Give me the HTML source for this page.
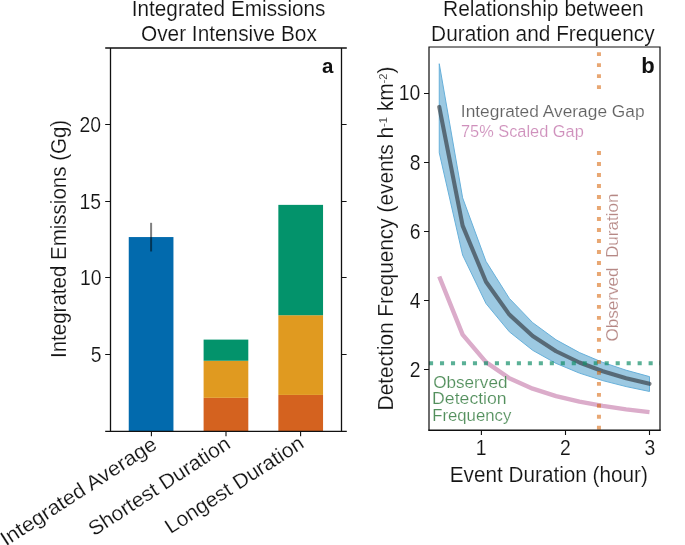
<!DOCTYPE html><html><head><meta charset="utf-8"><style>html,body{margin:0;padding:0;background:#fff;width:685px;height:545px;overflow:hidden}svg{display:block;will-change:transform}</style></head><body>
<svg width="685" height="545" viewBox="0 0 685 545" font-family='"Liberation Sans", sans-serif'>
<rect width="685" height="545" fill="#fff"/>
<rect x="128.75" y="237.06" width="44.70" height="194.04" fill="#026aad"/>
<rect x="203.60" y="397.84" width="44.70" height="33.26" fill="#d4621f"/>
<rect x="203.60" y="360.75" width="44.70" height="37.09" fill="#e09a20"/>
<rect x="203.60" y="339.60" width="44.70" height="21.15" fill="#03936b"/>
<rect x="278.35" y="394.93" width="44.70" height="36.17" fill="#d4621f"/>
<rect x="278.35" y="315.23" width="44.70" height="79.70" fill="#e09a20"/>
<rect x="278.35" y="204.87" width="44.70" height="110.35" fill="#03936b"/>
<line x1="151.1" y1="222.81" x2="151.1" y2="251.47" stroke="#000" stroke-opacity="0.5" stroke-width="2"/>
<path d="M110.5 48V431.3M341.5 48V431.3M105.2 48H346.8M105.2 431.3H346.8" fill="none" stroke="#111" stroke-width="1.3"/>
<path d="M105.2 354.50H110.5M341.5 354.50H346.6M105.2 277.50H110.5M341.5 277.50H346.6M105.2 201.50H110.5M341.5 201.50H346.6M105.2 124.50H110.5M341.5 124.50H346.6M151.40 431.3V436.2M226.00 431.3V436.2M300.60 431.3V436.2" fill="none" stroke="#111" stroke-width="1.1"/>
<polygon points="439.25,63.72 462.61,197.82 485.97,261.34 509.33,298.40 532.69,322.67 556.06,339.81 579.42,352.55 602.78,362.40 626.14,370.23 649.50,376.62 649.50,391.46 626.14,386.59 602.78,380.61 579.42,373.10 556.06,363.38 532.69,350.31 509.33,331.79 485.97,303.52 462.61,255.07 439.25,152.77" fill="#9cc9e2" stroke="#67b0da" stroke-width="1"/>
<polyline points="439.25,106.92 462.61,225.59 485.97,281.80 509.33,314.60 532.69,336.08 556.06,351.24 579.42,362.52 602.78,371.23 626.14,378.17 649.50,383.82" fill="none" stroke="#353c42" stroke-opacity="0.67" stroke-width="4.1" stroke-linejoin="round" stroke-linecap="round"/>
<polyline points="439.25,276.52 462.61,334.62 485.97,362.14 509.33,378.20 532.69,388.71 556.06,396.14 579.42,401.66 602.78,405.92 626.14,409.32 649.50,412.09" fill="none" stroke="#dbacca" stroke-width="4.4" stroke-linejoin="round"/>
<line x1="429" y1="363.3" x2="660" y2="363.3" stroke="#148e69" stroke-opacity="0.7" stroke-width="4.1" stroke-dasharray="4.1 6.88"/>
<line x1="598.95" y1="52.2" x2="598.95" y2="90" stroke="#D55E00" stroke-opacity="0.55" stroke-width="4" stroke-dasharray="3.9 7.09"/>
<line x1="598.95" y1="151.1" x2="598.95" y2="430" stroke="#D55E00" stroke-opacity="0.55" stroke-width="4" stroke-dasharray="3.9 7.09"/>
<path d="M429 46.4V430.8M660 46.4V430.8M428.4 47H660.6" fill="none" stroke="#111" stroke-width="1.22"/>
<path d="M428.4 430.2H660.6" fill="none" stroke="#111" stroke-width="1.4"/>
<path d="M424 369.50H429M424 300.50H429M424 231.50H429M424 162.50H429M424 93.50H429M481.4 430.2V434.9M565.5 430.2V434.9M649.5 430.2V434.9" fill="none" stroke="#111" stroke-width="1.1"/>
<text id="ya5" x="101.40" y="361.77" font-size="21.5" text-anchor="end" fill="#141414" stroke="#fff" stroke-width="0.15" textLength="10.77" lengthAdjust="spacingAndGlyphs">5</text>
<text id="ya10" x="101.60" y="285.13" font-size="21.5" text-anchor="end" fill="#141414" stroke="#fff" stroke-width="0.15" textLength="21.53" lengthAdjust="spacingAndGlyphs">10</text>
<text id="ya15" x="101.00" y="208.50" font-size="21.5" text-anchor="end" fill="#141414" stroke="#fff" stroke-width="0.15" textLength="21.53" lengthAdjust="spacingAndGlyphs">15</text>
<text id="ya20" x="101.10" y="131.86" font-size="21.5" text-anchor="end" fill="#141414" stroke="#fff" stroke-width="0.15" textLength="21.53" lengthAdjust="spacingAndGlyphs">20</text>
<text id="la" x="322.00" y="72.60" font-size="20.5" fill="#111" font-weight="bold">a</text>
<text id="ta1" x="228.59" y="16.00" font-size="21.5" text-anchor="middle" fill="#141414" stroke="#fff" stroke-width="0.15" textLength="193.68" lengthAdjust="spacingAndGlyphs">Integrated Emissions</text>
<text id="ta2" x="228.90" y="41.00" font-size="21.5" text-anchor="middle" fill="#141414" stroke="#fff" stroke-width="0.15" textLength="175.83" lengthAdjust="spacingAndGlyphs">Over Intensive Box</text>
<text id="yla" transform="translate(66.30 238.95) rotate(-90)" font-size="21.5" text-anchor="middle" fill="#141414" stroke="#fff" stroke-width="0.15" textLength="238.24" lengthAdjust="spacingAndGlyphs">Integrated Emissions (Gg)</text>
<text id="xa1" transform="translate(158.30 447.70) rotate(-33)" font-size="20.5" text-anchor="end" fill="#141414" stroke="#fff" stroke-width="0.15" textLength="181.52" lengthAdjust="spacingAndGlyphs">Integrated Average</text>
<text id="xa2" transform="translate(231.75 447.00) rotate(-33)" font-size="20.5" text-anchor="end" fill="#141414" stroke="#fff" stroke-width="0.15" textLength="164.32" lengthAdjust="spacingAndGlyphs">Shortest Duration</text>
<text id="xa3" transform="translate(305.40 446.70) rotate(-33)" font-size="20.5" text-anchor="end" fill="#141414" stroke="#fff" stroke-width="0.15" textLength="160.82" lengthAdjust="spacingAndGlyphs">Longest Duration</text>
<text id="yb2" x="420.40" y="377.28" font-size="21.5" text-anchor="end" fill="#141414" stroke="#fff" stroke-width="0.15" textLength="10.77" lengthAdjust="spacingAndGlyphs">2</text>
<text id="yb4" x="420.40" y="308.05" font-size="21.5" text-anchor="end" fill="#141414" stroke="#fff" stroke-width="0.15" textLength="10.77" lengthAdjust="spacingAndGlyphs">4</text>
<text id="yb6" x="420.40" y="238.83" font-size="21.5" text-anchor="end" fill="#141414" stroke="#fff" stroke-width="0.15" textLength="10.77" lengthAdjust="spacingAndGlyphs">6</text>
<text id="yb8" x="420.40" y="169.60" font-size="21.5" text-anchor="end" fill="#141414" stroke="#fff" stroke-width="0.15" textLength="10.77" lengthAdjust="spacingAndGlyphs">8</text>
<text id="yb10" x="420.40" y="100.37" font-size="21.5" text-anchor="end" fill="#141414" stroke="#fff" stroke-width="0.15" textLength="21.53" lengthAdjust="spacingAndGlyphs">10</text>
<text id="xb1" x="481.10" y="455.00" font-size="21.5" text-anchor="middle" fill="#141414" stroke="#fff" stroke-width="0.15" textLength="10.77" lengthAdjust="spacingAndGlyphs">1</text>
<text id="xb2" x="565.30" y="455.00" font-size="21.5" text-anchor="middle" fill="#141414" stroke="#fff" stroke-width="0.15" textLength="10.77" lengthAdjust="spacingAndGlyphs">2</text>
<text id="xb3" x="650.00" y="455.00" font-size="21.5" text-anchor="middle" fill="#141414" stroke="#fff" stroke-width="0.15" textLength="10.77" lengthAdjust="spacingAndGlyphs">3</text>
<text id="lb" x="641.30" y="72.60" font-size="22" fill="#111" font-weight="bold">b</text>
<text id="tb1" x="543.40" y="16.00" font-size="21.5" text-anchor="middle" fill="#141414" stroke="#fff" stroke-width="0.15" textLength="200.71" lengthAdjust="spacingAndGlyphs">Relationship between</text>
<text id="tb2" x="542.83" y="41.00" font-size="21.5" text-anchor="middle" fill="#141414" stroke="#fff" stroke-width="0.15" textLength="223.46" lengthAdjust="spacingAndGlyphs">Duration and Frequency</text>
<text id="xlb" x="548.85" y="482.00" font-size="21.5" text-anchor="middle" fill="#141414" stroke="#fff" stroke-width="0.15" textLength="198.11" lengthAdjust="spacingAndGlyphs">Event Duration (hour)</text>
<text id="ylb" transform="translate(392.90 238.50) rotate(-90)" font-size="21.5" text-anchor="middle" fill="#141414" stroke="#fff" stroke-width="0.15" textLength="343.83" lengthAdjust="spacingAndGlyphs">Detection Frequency (events h<tspan font-size="11.5" dy="-6.2">-1</tspan><tspan dy="6.2"> km</tspan><tspan font-size="11.5" dy="-6.2">-2</tspan><tspan dy="6.2">)</tspan></text>
<text id="lg1" x="460.84" y="117.00" font-size="15.8" fill="#626262" stroke="#fff" stroke-width="0.15" textLength="183.81" lengthAdjust="spacingAndGlyphs">Integrated Average Gap</text>
<text id="lg2" x="461.01" y="137.00" font-size="15.8" fill="#cf90bc" stroke="#fff" stroke-width="0.15" textLength="122.73" lengthAdjust="spacingAndGlyphs">75% Scaled Gap</text>
<text id="ob0" x="433.15" y="388.00" font-size="15.8" fill="#528f5c" stroke="#fff" stroke-width="0.15" textLength="74.33" lengthAdjust="spacingAndGlyphs">Observed</text>
<text id="ob1" x="432.13" y="404.00" font-size="15.8" fill="#528f5c" stroke="#fff" stroke-width="0.15" textLength="74.55" lengthAdjust="spacingAndGlyphs">Detection</text>
<text id="ob2" x="432.18" y="421.00" font-size="15.8" fill="#528f5c" stroke="#fff" stroke-width="0.15" textLength="79.10" lengthAdjust="spacingAndGlyphs">Frequency</text>
<text id="od" transform="translate(617.50 267.55) rotate(-90)" font-size="15.8" text-anchor="middle" fill="#b68885" stroke="#fff" stroke-width="0.15" textLength="147.85" lengthAdjust="spacingAndGlyphs">Observed&#160;&#160;Duration</text>
</svg>
</body></html>
